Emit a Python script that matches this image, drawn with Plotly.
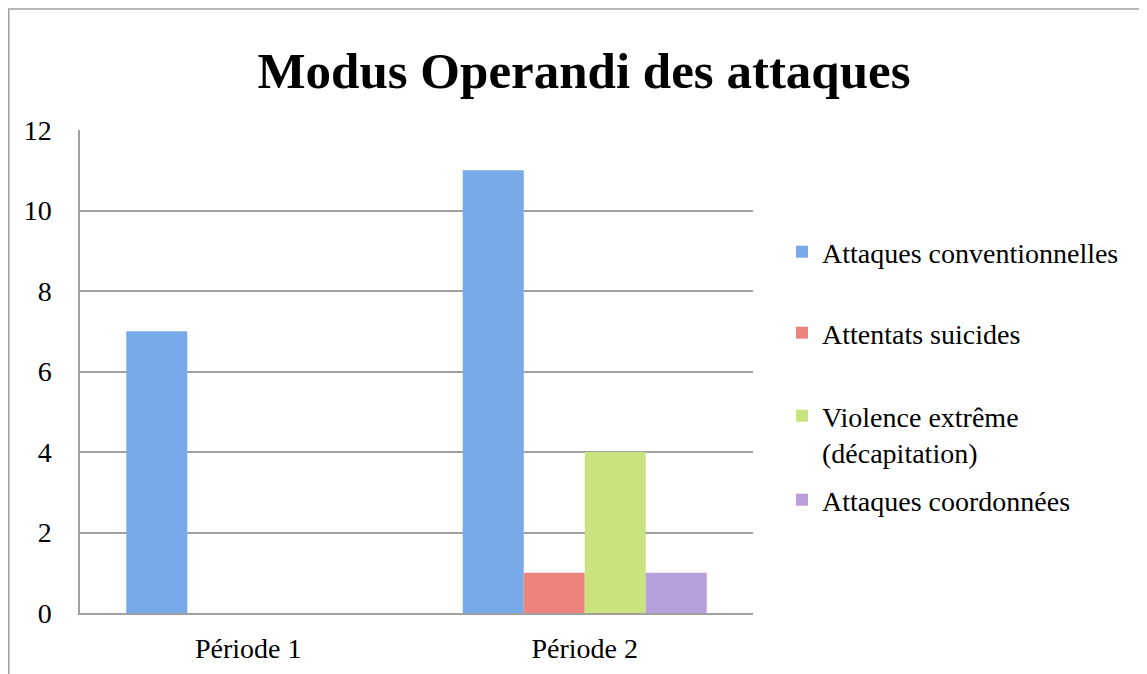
import plotly.graph_objects as go

categories = ["Période 1", "Période 2"]
series_names = [
    "Attaques conventionnelles",
    "Attentats suicides",
    "Violence extrême<br>(décapitation)",
    "Attaques coordonnées",
]
values_conventionnelles = [7, 11]
values_suicides = [0, 1]
values_violence = [0, 4]
values_coordonnees = [0, 1]
series_values = [values_conventionnelles, values_suicides, values_violence, values_coordonnees]
y_ticks = [0, 2, 4, 6, 8, 10, 12]

colors = ["#78aaea", "#ee837d", "#c9e47f", "#b79fd9"]
legend_ids = ["legend", "legend2", "legend3", "legend4"]
legend_y = [0.7474, 0.5797, 0.3706, 0.2340]

FONT = "Liberation Serif"
GRID = "#a0a0a0"
ML, MR, MT, MB = 72, 402, 122, 69
PW, PH = 1147 - ML - MR, 674 - MT - MB

fig = go.Figure()
for name, vals, col, lg in zip(series_names, series_values, colors, legend_ids):
    fig.add_trace(go.Bar(
        x=categories, y=vals, name=name,
        marker=dict(color=col, line=dict(width=0)),
        legend=lg, showlegend=True,
    ))

legend_common = dict(
    x=1.0431, xanchor="left", yanchor="middle",
    font=dict(family=FONT, size=28, color="#000"),
    bgcolor="rgba(0,0,0,0)", valign="top",
)
layout_legends = {}
for lg, yy in zip(legend_ids, legend_y):
    layout_legends[lg] = dict(legend_common, y=yy)

fig.update_layout(
    width=1147, height=674,
    margin=dict(l=ML, r=MR, t=MT, b=MB),
    paper_bgcolor="white", plot_bgcolor="white",
    showlegend=True,
    barmode="group", bargap=0.275, bargroupgap=0,
    title=dict(
        text="<b>Modus Operandi des attaques</b>",
        x=576 / 1147, xanchor="center", xref="container",
        y=1 - 62 / 674, yanchor="middle", yref="container",
        font=dict(family=FONT, size=51, color="#000"),
    ),
    font=dict(family=FONT, size=28, color="#000"),
    xaxis=dict(
        showgrid=False, showline=True, linecolor=GRID, linewidth=1.5,
        ticks="outside", ticklen=10, tickcolor="rgba(0,0,0,0)",
        tickfont=dict(family=FONT, size=28, color="#000"),
    ),
    yaxis=dict(
        range=[0, 12], tickvals=y_ticks,
        showgrid=True, gridcolor=GRID, gridwidth=1.5,
        showline=True, linecolor=GRID, linewidth=1.5,
        zeroline=False,
        ticks="outside", ticklen=21, tickcolor="rgba(0,0,0,0)",
        tickfont=dict(family=FONT, size=28, color="#000"),
    ),
    shapes=[dict(
        type="rect", xref="paper", yref="paper",
        x0=(0.75 - ML) / PW, x1=2.0, y0=-1.0, y1=(PH + MT - 1) / PH,
        line=dict(color=GRID, width=1.5), fillcolor="rgba(0,0,0,0)", layer="below",
    )],
    **layout_legends,
)

fig.write_html("out.html")
